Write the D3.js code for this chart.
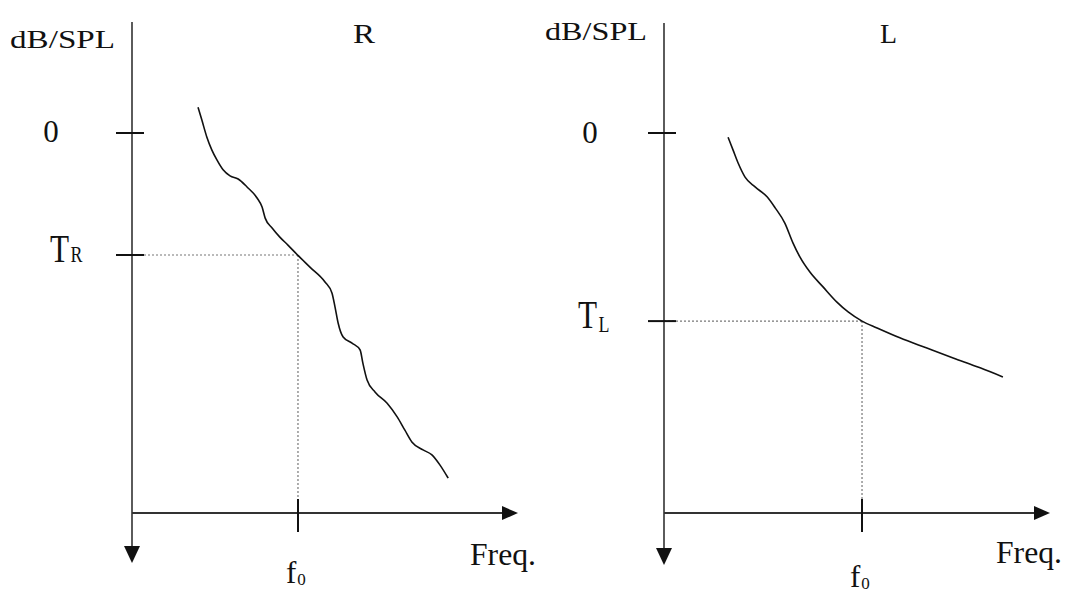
<!DOCTYPE html>
<html>
<head>
<meta charset="utf-8">
<script src="https://cdn.jsdelivr.net/npm/d3@7"></script>
<style>
  html, body { margin: 0; padding: 0; background: #fff; }
  svg { display: block; }
  text { font-family: "Liberation Serif", "Times New Roman", Tinos, serif; fill: #111; }
</style>
</head>
<body>
<svg id="chart" width="1077" height="595"></svg>
<script>
// ---- Data (frequency in arbitrary units 0..100, level in dB/SPL units: 0 at top, increasing downward) ----
const panelNames = ["R", "L"];
const yAxisLabel = "dB/SPL";
const xAxisLabel = "Freq.";

const freqR  = [17.1, 18.1, 19.4, 20.7, 22.0, 23.6, 25.4, 27.5, 29.8, 32.4, 33.7, 34.5, 36.3, 38.3, 40.4, 42.7, 46.1, 50.0, 51.8, 52.6, 53.4, 54.7, 57.0, 59.1, 59.8, 60.9, 63.0, 66.1, 68.7, 70.7, 72.5, 75.4, 77.7, 79.8, 81.9];
const levelR = [-6.8, -3.4, 1.1, 4.5, 7.1, 9.7, 11.3, 12.1, 14.2, 17.1, 19.5, 22.4, 25.0, 27.4, 29.5, 31.9, 35.3, 39.2, 42.1, 45.8, 50.0, 53.7, 55.3, 57.1, 60.5, 65.0, 68.2, 71.1, 74.7, 78.2, 81.3, 83.4, 84.7, 87.4, 90.8];

const freqL  = [16.6, 17.9, 19.2, 21.0, 23.6, 26.7, 28.8, 31.3, 33.4, 35.2, 37.8, 41.2, 44.8, 47.7, 51.3, 55.2, 61.1, 68.1, 74.9, 81.9, 87.8];
const levelL = [1.1, 4.5, 7.9, 11.6, 14.2, 16.8, 19.7, 23.7, 28.9, 32.6, 36.6, 40.5, 44.5, 47.1, 49.5, 51.3, 53.9, 56.6, 59.2, 61.8, 64.2];

const thresholds  = [32.1, 49.5];   // T_R, T_L
const f0Values    = [43.0, 51.3];   // f0 for R, L
const zeroLevel   = 0;
const yTickLabels = [["0", "T", "R"], ["0", "T", "L"]];
const xTickLabels = ["f", "0"];

// ---- Layout ----
const svg = d3.select("#chart");
const layouts = [
  { x0: 132, x1: 518, yTop: 22, y0: 133, y1: 513, yArrow: 563, dbX: 10, dbY: 48, dbW: 105, titleX: 353, titleY: 43, titleW: 22,
    zeroX: 51, zeroY: 142, tX: 50, tY: 262, subDy: 0, freqX: 470, freqY: 565, f0Y: 583 },
  { x0: 664, x1: 1050, yTop: 23, y0: 133, y1: 513, yArrow: 565, dbX: 545, dbY: 40, dbW: 102, titleX: 880, titleY: 43, titleW: 17,
    zeroX: 590, zeroY: 143, tX: 578, tY: 328, subDy: 4, freqX: 996, freqY: 563, f0Y: 587 }
];
const series = [
  { freq: freqR, level: levelR },
  { freq: freqL, level: levelL }
];

panelNames.forEach((name, i) => {
  const L = layouts[i];
  const x = d3.scaleLinear().domain([0, 100]).range([L.x0, L.x1]);
  const y = d3.scaleLinear().domain([0, 100]).range([L.y0, L.y1]);
  const g = svg.append("g");
  const ax = x(0), ay = y(100);

  // guide dotted lines
  const T = thresholds[i], F = f0Values[i];
  g.append("line").attr("x1", ax).attr("x2", x(F)).attr("y1", y(T)).attr("y2", y(T))
    .attr("stroke", "#777").attr("stroke-width", 1.2).attr("stroke-dasharray", "2,2");
  g.append("line").attr("x1", x(F)).attr("x2", x(F)).attr("y1", y(T)).attr("y2", ay)
    .attr("stroke", "#777").attr("stroke-width", 1.2).attr("stroke-dasharray", "2,2");

  // vertical axis (level, increasing downward)
  g.append("line").attr("x1", ax).attr("x2", ax).attr("y1", L.yTop).attr("y2", L.yArrow - 12)
    .attr("stroke", "#333").attr("stroke-width", 1.6);
  g.append("path")
    .attr("d", `M${ax - 8},${L.yArrow - 17} L${ax + 8},${L.yArrow - 17} L${ax},${L.yArrow} Z`)
    .attr("fill", "#111");

  // horizontal axis (frequency)
  g.append("line").attr("x1", ax).attr("x2", x(100) - 12).attr("y1", ay).attr("y2", ay)
    .attr("stroke", "#333").attr("stroke-width", 1.8);
  g.append("path")
    .attr("d", `M${x(100) - 16},${ay - 7} L${x(100) - 16},${ay + 7} L${x(100)},${ay} Z`)
    .attr("fill", "#111");

  // y ticks (crossing the axis)
  [zeroLevel, T].forEach(v => {
    g.append("line").attr("x1", ax - 16).attr("x2", ax + 12).attr("y1", y(v)).attr("y2", y(v))
      .attr("stroke", "#111").attr("stroke-width", 2);
  });
  // x tick at f0
  g.append("line").attr("x1", x(F)).attr("x2", x(F)).attr("y1", ay - 14).attr("y2", ay + 19)
    .attr("stroke", "#111").attr("stroke-width", 2);

  // curve
  const line = d3.line()
    .x((d, k) => x(series[i].freq[k]))
    .y((d, k) => y(series[i].level[k]))
    .curve(d3.curveMonotoneX);
  g.append("path").datum(series[i].freq).attr("d", line)
    .attr("fill", "none").attr("stroke", "#111").attr("stroke-width", 1.6);

  // labels
  g.append("text").attr("x", L.dbX).attr("y", L.dbY).attr("font-size", 26)
    .attr("textLength", L.dbW).attr("lengthAdjust", "spacingAndGlyphs").text(yAxisLabel);
  g.append("text").attr("x", L.titleX).attr("y", L.titleY).attr("font-size", 27)
    .attr("textLength", L.titleW).attr("lengthAdjust", "spacingAndGlyphs").text(name);
  g.append("text").attr("x", L.zeroX).attr("y", L.zeroY).attr("font-size", 31)
    .attr("text-anchor", "middle").text(yTickLabels[i][0]);

  const tt = g.append("text").attr("transform", `translate(${L.tX},${L.tY}) scale(0.78,1)`)
    .attr("font-size", 40);
  tt.append("tspan").text(yTickLabels[i][1]);
  tt.append("tspan").attr("font-size", 23).attr("dx", 2).attr("dy", L.subDy).text(yTickLabels[i][2]);

  g.append("text").attr("x", L.freqX).attr("y", L.freqY).attr("font-size", 32)
    .attr("textLength", 66).attr("lengthAdjust", "spacingAndGlyphs").text(xAxisLabel);

  const ft = g.append("text").attr("x", x(F) - 12).attr("y", L.f0Y).attr("font-size", 31);
  ft.append("tspan").text(xTickLabels[0]);
  ft.append("tspan").attr("font-size", 17).attr("dx", 1).attr("dy", 2).text(xTickLabels[1]);
});
</script>
</body>
</html>
